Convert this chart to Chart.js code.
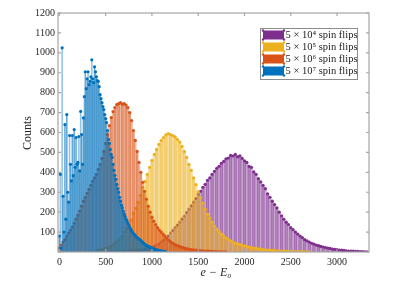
<!DOCTYPE html>
<html>
<head>
<meta charset="utf-8">
<script src="https://cdn.jsdelivr.net/npm/chart.js@4.4.0/dist/chart.umd.min.js"></script>
<style>
    body { margin: 0; background: #fff; }
    canvas { display: block; }
</style>
</head>
<body>
<canvas id="grafico" width="415" height="300"></canvas>
<script>
"use strict"

// --- data ---
const serie = ["5 × 10⁴ spin flips", "5 × 10⁵ spin flips", "5 × 10⁶ spin flips", "5 × 10⁷ spin flips"];
const colori = ["126,47,142", "237,177,32", "217,83,25", "0,114,189"];

const xTicks = [0, 500, 1000, 1500, 2000, 2500, 3000];
const yTicks = [0, 100, 200, 300, 400, 500, 600, 700, 800, 900, 1000, 1100, 1200];

// bins: start + i*step
const purpleStart = 500, purpleStep = 25;
const purpleCounts = [
    0, 0, 1, 0, 1, 2, 1, 2, 3, 2,
    4, 5, 6, 7, 9, 10, 12, 14, 17, 20,
    23, 28, 35, 40, 50, 58, 70, 80, 95, 108,
    122, 135, 150, 165, 180, 198, 215, 232, 250, 268,
    290, 305, 325, 340, 360, 372, 390, 405, 420, 430,
    445, 455, 468, 472, 485, 482, 490, 478, 483, 470,
    458, 450, 430, 425, 402, 390, 368, 352, 335, 318,
    292, 275, 255, 238, 222, 200, 182, 165, 150, 138,
    122, 112, 100, 90, 80, 72, 62, 56, 50, 44,
    40, 35, 32, 28, 25, 22, 20, 18, 15, 13,
    12, 10, 9, 8, 6, 5, 5, 4, 3, 3,
    2, 2, 1, 1
];

const yellowStart = 400, yellowStep = 25;
const yellowCounts = [
    7, 9, 10, 13, 18, 22, 27, 33, 45, 55,
    62, 78, 100, 118, 135, 160, 195, 220, 250, 285,
    325, 355, 390, 425, 460, 490, 515, 540, 560, 575,
    588, 595, 590, 585, 578, 565, 552, 530, 505, 475,
    440, 410, 372, 338, 302, 272, 245, 215, 190, 170,
    150, 130, 115, 102, 90, 80, 70, 63, 56, 50,
    45, 41, 37, 34, 31, 28, 25, 22, 20, 18,
    16, 14, 12, 11, 10, 9, 8, 7, 6, 6,
    5, 4, 4, 3, 3, 3, 2, 2, 2, 1,
    1, 1, 1
];

const orangeStart = 0, orangeStep = 20;
const orangeCounts = [
    20, 35, 50, 62, 80, 95, 110, 125, 145, 165,
    185, 205, 230, 255, 275, 295, 315, 335, 355, 372,
    390, 415, 440, 470, 505, 545, 590, 635, 675, 705,
    725, 740, 745, 750, 742, 745, 738, 725, 700, 660,
    610, 560, 505, 450, 400, 350, 305, 265, 230, 200,
    175, 155, 138, 122, 110, 100, 90, 80, 70, 60,
    52, 45, 40, 35, 31, 27, 24, 21, 18, 16,
    14, 12, 11, 10, 9, 8, 7, 6, 5, 5,
    4, 4, 3, 3, 2, 2, 1, 1, 1, 1,
    0
];

const blueStart = 0, blueStep = 10;
const blueCounts = [
    80, 390, 20, 1025, 280, 100, 640, 165, 690, 300,
    250, 585, 440, 357, 585, 383, 615, 425, 575, 440,
    450, 580, 407, 706, 590, 440, 673, 780, 905, 820,
    870, 905, 840, 857, 880, 965, 870, 850, 930, 905,
    880, 860, 857, 830, 790, 770, 750, 730, 715, 690,
    670, 650, 610, 565, 545, 515, 490, 475, 440, 410,
    385, 365, 340, 318, 300, 275, 255, 235, 222, 205,
    190, 178, 165, 157, 145, 135, 125, 115, 107, 100,
    93, 88, 82, 76, 72, 68, 65, 62, 58, 52,
    48, 44, 40, 36, 33, 30, 28, 26, 24, 22,
    20, 18, 16, 14, 12, 11, 10, 8, 7, 6,
    5, 4, 3, 2, 2, 1
];

const xMin = -15, xMax = 3345;
const pxPerUnit = 311 / (xMax - xMin);

function punti(start, step, counts) {
    return counts.map((c, i) => ({ x: start + i * step, y: c }));
}

const gruppi = [
    [purpleStart, purpleStep, purpleCounts],
    [yellowStart, yellowStep, yellowCounts],
    [orangeStart, orangeStep, orangeCounts],
    [blueStart, blueStep, blueCounts]
];

let datasets = [];
gruppi.forEach(function (g, k) {
    let dati = punti(g[0], g[1], g[2]);
    let col = colori[k];
    // bars
    datasets.push({
        type: "bar",
        data: dati,
        grouped: false,
        barThickness: g[1] * pxPerUnit,
        backgroundColor: function (c) {
            return c.dataIndex % 2 ? `rgba(${col},0.42)` : `rgba(${col},0.6)`;
        },
        borderWidth: 0,
        order: 8 - 2 * k
    });
    // markers
    datasets.push({
        type: "line",
        data: dati,
        showLine: false,
        pointRadius: 1.6,
        pointBackgroundColor: `rgb(${col})`,
        pointBorderWidth: 0,
        order: 7 - 2 * k
    });
});

const cornice = {
    id: "cornice",
    afterDraw(chart) {
        const ctx = chart.ctx;
        const a = chart.chartArea;
        const sx = chart.scales.x, sy = chart.scales.y;
        ctx.save();
        ctx.strokeStyle = "#a6a6a6";
        ctx.lineWidth = 1.2;
        ctx.strokeRect(a.left, a.top, a.right - a.left, a.bottom - a.top);
        ctx.beginPath();
        for (const v of xTicks) {
            let p = sx.getPixelForValue(v);
            ctx.moveTo(p, a.bottom); ctx.lineTo(p, a.bottom - 3);
            ctx.moveTo(p, a.top); ctx.lineTo(p, a.top + 3);
        }
        for (const v of yTicks) {
            let p = sy.getPixelForValue(v);
            ctx.moveTo(a.left, p); ctx.lineTo(a.left + 3, p);
            ctx.moveTo(a.right, p); ctx.lineTo(a.right - 3, p);
        }
        ctx.stroke();

        // axis titles
        ctx.fillStyle = "#262626";
        ctx.textAlign = "center";
        ctx.textBaseline = "middle";
        ctx.font = "italic 12px 'Liberation Serif'";
        ctx.fillText("e − E₀", 216, 273);
        ctx.font = "12px 'Liberation Serif'";
        ctx.translate(28, 133);
        ctx.rotate(-Math.PI / 2);
        ctx.fillText("Counts", 0, 0);
        ctx.setTransform(1, 0, 0, 1, 0, 0);

        // legend
        let lx = 260, ly = 28, lw = 97, lh = 51;
        ctx.fillStyle = "#fff";
        ctx.fillRect(lx, ly, lw, lh);
        ctx.strokeStyle = "#8c8c8c";
        ctx.lineWidth = 1;
        ctx.strokeRect(lx + 0.5, ly + 0.5, lw, lh);
        ctx.textAlign = "left";
        ctx.font = "10.5px 'Liberation Serif'";
        serie.forEach(function (s, k) {
            let cy = 35 + k * 12;
            ctx.fillStyle = `rgb(${colori[k]})`;
            ctx.fillRect(263, cy - 4.5, 21, 9);
            for (const px of [263, 284]) {
                for (const py of [cy - 4.5, cy + 4.5]) {
                    ctx.beginPath();
                    ctx.arc(px, py, 1.2, 0, 2 * Math.PI);
                    ctx.fill();
                }
            }
            ctx.fillStyle = "#222";
            ctx.fillText(s, 285.5, cy + 0.5);
        });
        ctx.restore();
    }
};

Chart.defaults.font.family = "'Liberation Serif', serif";
Chart.defaults.color = "#262626";

let chart = new Chart(document.getElementById("grafico"), {
    type: "bar",
    data: { datasets: datasets },
    options: {
        responsive: false,
        animation: false,
        devicePixelRatio: 1,
        layout: { padding: { top: 13, right: 46, left: 0, bottom: 0 } },
        plugins: { legend: { display: false }, tooltip: { enabled: false } },
        scales: {
            x: {
                type: "linear",
                offset: false,
                min: xMin,
                max: xMax,
                grid: { display: false, drawTicks: false, offset: false },
                border: { display: false },
                ticks: { font: { size: 10 }, padding: 4, maxRotation: 0, callback: v => String(v) },
                afterBuildTicks: function (s) { s.ticks = xTicks.map(v => ({ value: v })); },
                afterFit: function (s) { s.height = 48; }
            },
            y: {
                min: 0,
                max: 1200,
                grid: { display: false, drawTicks: false },
                border: { display: false },
                ticks: {
                    font: { size: 10 },
                    padding: 3,
                    callback: v => v === 0 ? "" : String(v)
                },
                afterBuildTicks: function (s) { s.ticks = yTicks.map(v => ({ value: v })); },
                afterFit: function (s) { s.width = 58; }
            }
        }
    },
    plugins: [cornice]
});
</script>
</body>
</html>
